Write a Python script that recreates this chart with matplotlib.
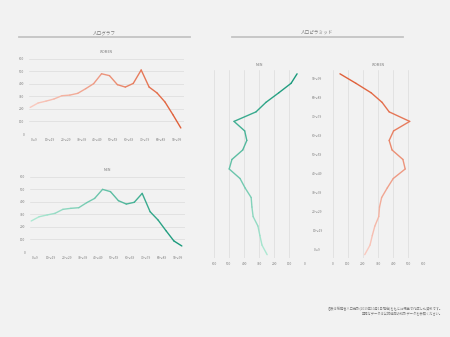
import numpy as np
import matplotlib
matplotlib.use("Agg")
from matplotlib import pyplot as plt
from matplotlib.collections import LineCollection
from matplotlib.colors import LinearSegmentedColormap

plt.rcParams['font.family'] = ['Noto Sans CJK JP', 'DejaVu Sans']

# 5-year age groups 0-4 ... 95-99 (x10k people-ish)
women = [212, 247, 262, 279, 305, 310, 324, 361, 401, 480,
         465, 393, 374, 403, 510, 374, 327, 255, 154, 48]
men = [247, 281, 295, 308, 340, 348, 353, 393, 427, 499,
       481, 409, 382, 396, 467, 321, 255, 170, 88, 48]
age_labels = ["0～9", "10～19", "20～29", "30～39", "40～49",
              "50～59", "60～69", "70～79", "80～89", "90～99"]
value_ticks = [0, 100, 200, 300, 400, 500, 600]

note1 = "各表は総務省人口推計(2019年10月1日現在)をもとに概算で作成した資料です。"
note2 = "正確なデータは公的機関の統計データを参照ください。"

bg = "#f2f2f2"
grid_c = "#dcdcdc"
text_c = "#7a7a7a"
women_cmap = LinearSegmentedColormap.from_list("w", ["#f9c9be", "#e0603a"])
men_cmap = LinearSegmentedColormap.from_list("m", ["#ace8d2", "#1a9a7c"])

W, H = 450, 337
fig = plt.figure(figsize=(4.5, 3.37), dpi=100, facecolor=bg)


def box(left, top, right, bottom):
    return [left / W, 1 - bottom / H, (right - left) / W, (bottom - top) / H]


def grad_line(ax, x, y, cmap):
    pts = np.column_stack([x, y]).reshape(-1, 1, 2)
    segs = np.concatenate([pts[:-1], pts[1:]], axis=1)
    lc = LineCollection(segs, cmap=cmap, linewidths=1.0, capstyle='round')
    lc.set_array(np.linspace(0, 1, len(segs)))
    ax.add_collection(lc)


def clean(ax):
    ax.set_facecolor(bg)
    for s in ax.spines.values():
        s.set_visible(False)
    ax.tick_params(length=0, labelsize=2.3, colors=text_c)


idx = np.arange(len(women))
label_pos = np.arange(len(age_labels)) * 2 + 0.5

# ---- line charts ----
for data, name, cmap, pos in [(women, "WOMEN", women_cmap, box(29, 58.7, 184, 134)),
                              (men, "MEN", men_cmap, box(30, 176.7, 185, 252))]:
    ax = fig.add_axes(pos)
    clean(ax)
    ax.set_xlim(-0.15, 19.4)
    ax.set_ylim(0, 600)
    ax.set_yticks(value_ticks)
    ax.set_xticks(label_pos, age_labels)
    ax.tick_params(axis='y', pad=3.5)
    ax.tick_params(axis='x', pad=3)
    ax.yaxis.grid(True, color=grid_c, linewidth=0.5)
    ax.set_axisbelow(True)
    grad_line(ax, idx, data, cmap)
    ax.set_title(name, fontsize=2.5, color=text_c, pad=4)

# ---- pyramid ----
axm = fig.add_axes(box(214, 70, 304.3, 258))
axw = fig.add_axes(box(332.7, 70, 423.3, 258))
for ax in (axm, axw):
    clean(ax)
    ax.set_ylim(-0.35, 19.4)
    ax.set_xticks(value_ticks)
    ax.xaxis.grid(True, color=grid_c, linewidth=0.5)
    ax.set_axisbelow(True)
    ax.tick_params(axis='x', pad=3)
axm.set_xlim(600, 0)
axw.set_xlim(0, 600)
axm.set_yticks([])
axw.set_yticks(label_pos, age_labels)
for t in axw.get_yticklabels():
    t.set_horizontalalignment('center')
axw.tick_params(axis='y', pad=11)
grad_line(axm, men, idx, men_cmap)
grad_line(axw, women, idx, women_cmap)
axm.set_title("MEN", fontsize=2.5, color=text_c, pad=3)
axw.set_title("WOMEN", fontsize=2.5, color=text_c, pad=3)

# ---- headers ----
for x0, x1, label in [(19, 190, "人口グラフ"), (232, 403, "人口ピラミッド")]:
    fig.add_artist(plt.Line2D([x0 / W, x1 / W], [1 - 36.5 / H] * 2,
                              color="#c4c4c4", linewidth=1.3))
    fig.text((x0 + x1) / 2 / W, 1 - 32.5 / H, label, fontsize=3.3,
             color=text_c, ha='center', va='center')

fig.text(443 / W, 1 - 309 / H, note1, fontsize=2.3, color=text_c, ha='right', va='center')
fig.text(443 / W, 1 - 314 / H, note2, fontsize=2.3, color=text_c, ha='right', va='center')

fig.savefig("out.png", dpi=100, facecolor=bg)
